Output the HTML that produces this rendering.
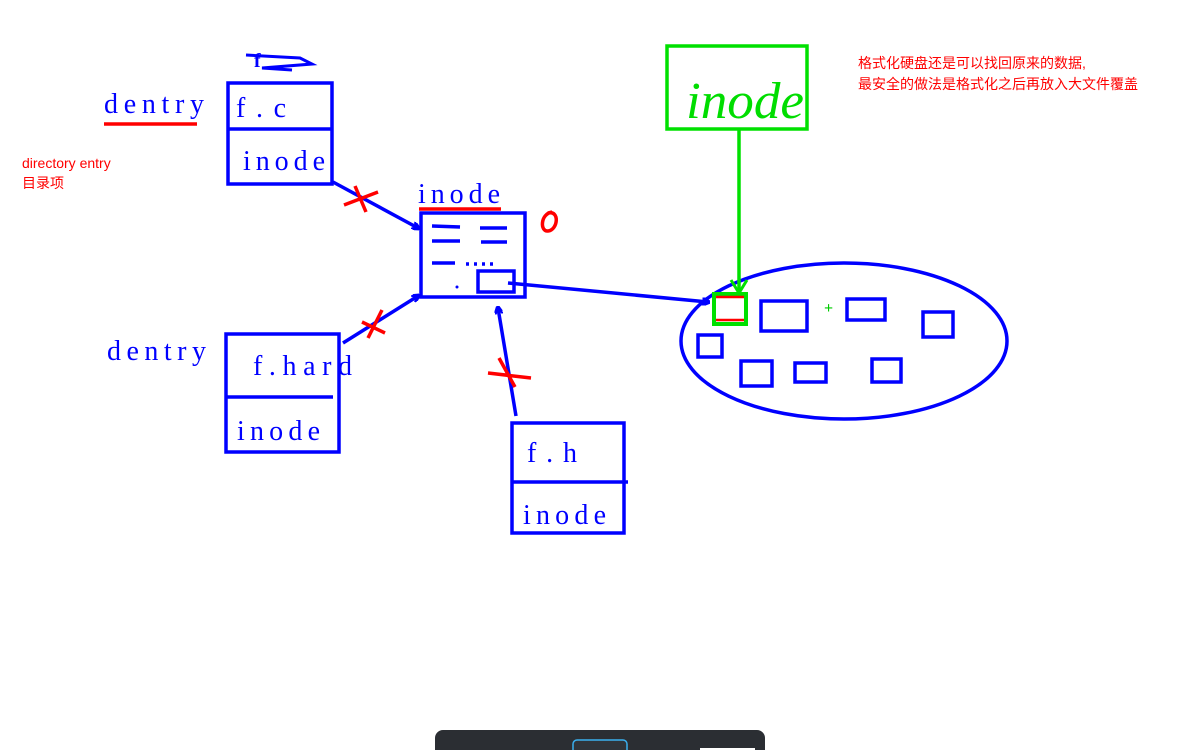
<!DOCTYPE html>
<html><head><meta charset="utf-8"><style>
html,body{margin:0;padding:0;background:#fff;width:1200px;height:750px;overflow:hidden}
svg text{font-family:"Liberation Serif","DejaVu Serif",serif}
.cn{font-family:"Liberation Sans","Noto Sans CJK SC",sans-serif}
</style></head><body>
<svg width="1200" height="750" viewBox="0 0 1200 750" xmlns="http://www.w3.org/2000/svg">
<defs>
<marker id="a" markerWidth="8" markerHeight="8" refX="6" refY="4" orient="auto" markerUnits="userSpaceOnUse"><path d="M0,0 L8,4 L0,8" fill="none" stroke="#0000ff" stroke-width="3"/></marker>
</defs>
<g fill="none" stroke="#0000ff" stroke-width="3.5">
<rect x="228" y="83" width="104" height="101"/>
<line x1="228" y1="129" x2="332" y2="129"/>
<rect x="226" y="334" width="113" height="118"/>
<line x1="226" y1="397" x2="333" y2="397"/>
<rect x="512" y="423" width="112" height="110"/>
<line x1="512" y1="482" x2="628" y2="482"/>
<rect x="421" y="213" width="104" height="84"/>
<rect x="478" y="271" width="36" height="21"/>
<line x1="432" y1="226" x2="460" y2="227"/>
<line x1="480" y1="228" x2="507" y2="228"/>
<line x1="432" y1="241" x2="460" y2="241"/>
<line x1="481" y1="242" x2="507" y2="242"/>
<line x1="432" y1="263" x2="455" y2="263"/>
<line x1="466" y1="264" x2="496" y2="264" stroke-dasharray="3 5"/>
<line x1="333" y1="182" x2="418" y2="228" marker-end="url(#a)"/>
<line x1="343" y1="343" x2="418" y2="296" marker-end="url(#a)"/>
<line x1="516" y1="416" x2="498" y2="308" marker-end="url(#a)"/>
<line x1="508" y1="283" x2="708" y2="302" marker-end="url(#a)"/>
<ellipse cx="844" cy="341" rx="163" ry="78"/>
<rect x="761" y="301" width="46" height="30"/>
<rect x="847" y="299" width="38" height="21"/>
<rect x="923" y="312" width="30" height="25"/>
<rect x="698" y="335" width="24" height="22"/>
<rect x="741" y="361" width="31" height="25"/>
<rect x="795" y="363" width="31" height="19"/>
<rect x="872" y="359" width="29" height="23"/>
</g>
<circle cx="457" cy="287" r="1.5" fill="#00f"/>
<rect x="667" y="46" width="140" height="83" fill="none" stroke="#00e000" stroke-width="3.5"/>
<text x="686" y="118" font-size="52" fill="#00dd00" font-style="italic" textLength="118" lengthAdjust="spacingAndGlyphs">inode</text>
<line x1="739" y1="129" x2="739" y2="292" stroke="#00e000" stroke-width="3.5"/>
<path d="M731,280 L739,293 L747,280" fill="none" stroke="#00e000" stroke-width="3"/>
<rect x="714" y="294" width="32" height="30" fill="#fff" stroke="#00e000" stroke-width="4"/>
<line x1="716" y1="297" x2="744" y2="297" stroke="#f00" stroke-width="2.5"/>
<line x1="716" y1="320" x2="744" y2="320" stroke="#f00" stroke-width="2.5"/>
<text x="824" y="313" font-size="16" fill="#00cc00" font-family="Liberation Sans" font-weight="bold">+</text>
<g fill="#0000ff" font-size="28">
<text x="104" y="113" textLength="100" lengthAdjust="spacing">dentry</text>
<text x="107" y="360" textLength="99" lengthAdjust="spacing">dentry</text>
<text x="236" y="117" textLength="50" lengthAdjust="spacing">f.c</text>
<text x="243" y="170" textLength="82" lengthAdjust="spacing">inode</text>
<text x="253" y="375" textLength="99" lengthAdjust="spacing">f.hard</text>
<text x="237" y="440" textLength="83" lengthAdjust="spacing">inode</text>
<text x="527" y="462" textLength="50" lengthAdjust="spacing">f.h</text>
<text x="523" y="524" textLength="83" lengthAdjust="spacing">inode</text>
<text x="418" y="203" textLength="82" lengthAdjust="spacing">inode</text>
<text x="254" y="67" font-size="20" font-weight="bold">f</text>
</g>
<path d="M246,55 L300,58 L312,64 L262,68 L292,70" fill="none" stroke="#00f" stroke-width="3"/>
<g stroke="#f00" stroke-width="3.5" fill="none">
<line x1="104" y1="124" x2="197" y2="124"/>
<line x1="419" y1="209" x2="501" y2="209"/>
<path d="M344,205 L378,192 M355,186 L366,212"/>
<path d="M362,322 L385,333 M368,338 L382,310"/>
<path d="M488,373 L531,378 M499,358 L515,387"/>
<path d="M548,213 C560,210 558,230 548,231 C540,232 540,214 552,212"/>
</g>
<g fill="#f00" font-size="14">
<text x="22" y="168" class="cn">directory entry</text>
<text x="22" y="188" class="cn">目录项</text>
<text x="858" y="68" class="cn">格式化硬盘还是可以找回原来的数据,</text>
<text x="858" y="89" class="cn">最安全的做法是格式化之后再放入大文件覆盖</text>
</g>
<rect x="435" y="730" width="330" height="30" rx="8" fill="#2b2e33"/>
<rect x="573" y="740" width="54" height="20" rx="4" fill="#30343a" stroke="#3ab0f0" stroke-width="1.5"/>
<rect x="700" y="748" width="55" height="5" fill="#fff"/>
</svg>
</body></html>
